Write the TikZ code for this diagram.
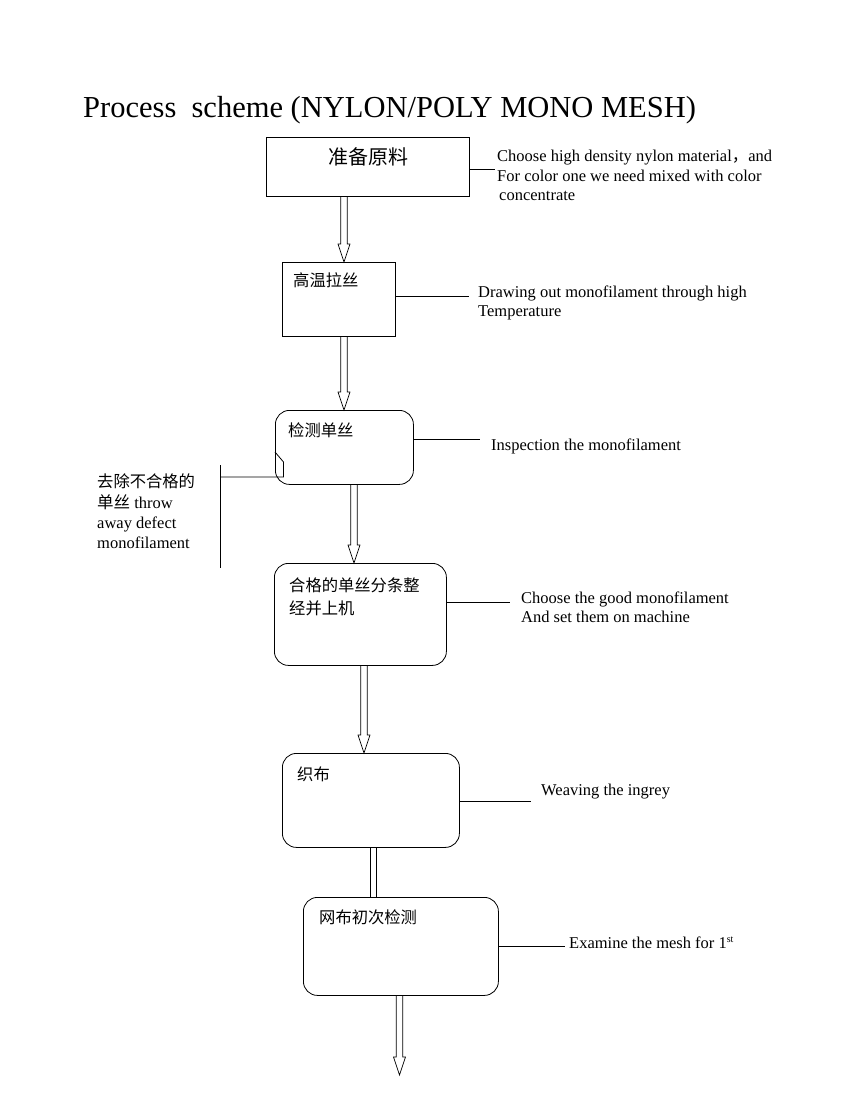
\documentclass[tikz,border=0pt]{standalone}
\usepackage{fontspec}
\setmainfont{Liberation Serif}
\newfontfamily\cjk{Noto Sans CJK SC}
\usetikzlibrary{calc}
\tikzset{
  sqbox/.style={draw, line width=0.8pt, rectangle, inner sep=0pt, anchor=north west},
  rbox/.style={draw, line width=0.8pt, rectangle, rounded corners=14pt, inner sep=0pt, anchor=north west},
  conn/.style={line width=0.8pt},
  dbl/.style={line width=0.7pt, line join=miter},
  cjktxt/.style={inner sep=0pt, anchor=base west, font=\fontsize{16.3}{19.5}\cjk},
  note/.style={inner sep=0pt, anchor=base west, font=\fontsize{16.5}{19.5}\selectfont},
}
\newcommand{\dblarrow}[2]{%
  \draw[dbl] ($(#1)+(-3.3,0)$) -- ($(#2)+(-3.3,-18)$) -- ($(#2)+(-6,-18)$) -- (#2)
    -- ($(#2)+(6,-18)$) -- ($(#2)+(3.3,-18)$) -- ($(#1)+(3.3,0)$);}
\begin{document}
\begin{tikzpicture}[x=1pt,y=-1pt]
\useasboundingbox (0,0) rectangle (850,1100);

% title
\node[inner sep=0pt, anchor=base west, font=\fontsize{30.5}{36}\selectfont] (title) at (83,117) {Process~~scheme (NYLON/POLY MONO MESH)};

% boxes
\node[sqbox, minimum width=203pt, minimum height=59pt] (b1) at (266,137) {};
\node[sqbox, minimum width=113pt, minimum height=74pt] (b2) at (282,262) {};
\node[rbox, minimum width=138pt, minimum height=74pt] (b3) at (275,410) {};
\node[rbox, minimum width=172pt, minimum height=102pt] (b4) at (274,563) {};
\node[rbox, minimum width=177pt, minimum height=94pt] (b5) at (282,753) {};
\node[rbox, minimum width=195pt, minimum height=98pt] (b6) at (303,897) {};

% box texts
\node[cjktxt, font=\fontsize{20}{24}\cjk] (t1) at (328,164.5) {准备原料};
\node[cjktxt] (t2) at (293,286) {高温拉丝};
\node[cjktxt] (t3) at (288,436) {检测单丝};
\node[cjktxt] (t4a) at (289,591) {合格的单丝分条整};
\node[cjktxt] (t4b) at (289,614) {经并上机};
\node[cjktxt] (t5) at (297,780) {织布};
\node[cjktxt] (t6) at (319,923) {网布初次检测};

% side notes
\node[note] (n1a) at (497,161) {Choose high density nylon material{\cjk ，}and};
\node[note] (n1b) at (497,181) {For color one we need mixed with color};
\node[note] (n1c) at (499,200) {concentrate};
\node[note] (n2a) at (478,297) {Drawing out monofilament through high};
\node[note] (n2b) at (478,316) {Temperature};
\node[note] (n3) at (491,450) {Inspection the monofilament};
\node[note] (n4a) at (521,603) {Choose the good monofilament};
\node[note] (n4b) at (521,622) {And set them on machine};
\node[note] (n5) at (541,795) {Weaving the ingrey};
\node[note] (n6) at (569,948) {Examine the mesh for 1\raisebox{5.5pt}{\fontsize{10}{10}\selectfont st}};
\node[cjktxt] (l1) at (97,487) {去除不合格的};
\node[note] (l2) at (97,508) {{\cjk 单丝} throw};
\node[note] (l3) at (97,528) {away defect};
\node[note] (l4) at (97,548) {monofilament};

% side connectors
\coordinate (e1) at (495,169);
\coordinate (e2) at (469,296);
\coordinate (e3) at (480,439);
\coordinate (e4) at (510,602);
\coordinate (e5) at (531,801);
\coordinate (e6) at (565,946);
\draw[conn] (b1.east |- e1) -- (e1);
\draw[conn] (b2.east |- e2) -- (e2);
\draw[conn] (b3.east |- e3) -- (e3);
\draw[conn] (b4.east |- e4) -- (e4);
\draw[conn] (b5.east |- e5) -- (e5);
\draw[conn] (b6.east |- e6) -- (e6);

% reject branch with notch on b3
\coordinate (r1) at (220.5,465);
\coordinate (r2) at (220.5,568);
\coordinate (rn) at (283.5,477);
\draw[conn] (r1) -- (r2);
\draw[conn] (b3.west |- 0,452) -- (283.5,462) -- (rn) -- (rn -| r1);

% flow arrows
\coordinate (x1) at (344,0);
\coordinate (x3) at (354,0);
\coordinate (x4) at (364,0);
\coordinate (x5) at (373.5,0);
\coordinate (x6) at (399.5,0);
\coordinate (a1s) at (b1.south -| x1); \coordinate (a1e) at (b2.north -| x1);
\coordinate (a2s) at (b2.south -| x1); \coordinate (a2e) at (b3.north -| x1);
\coordinate (a3s) at (b3.south -| x3); \coordinate (a3e) at (b4.north -| x3);
\coordinate (a4s) at (b4.south -| x4); \coordinate (a4e) at (b5.north -| x4);
\coordinate (a5s) at (b5.south -| x5); \coordinate (a5e) at (b6.north -| x5);
\coordinate (a6s) at (b6.south -| x6); \coordinate (a6e) at (399.5,1075);
\dblarrow{a1s}{a1e}
\dblarrow{a2s}{a2e}
\dblarrow{a3s}{a3e}
\dblarrow{a4s}{a4e}
\draw[dbl] ($(a5s)+(-2.7,0)$) -- ($(a5e)+(-2.7,0)$);
\draw[dbl] ($(a5s)+(2.7,0)$) -- ($(a5e)+(2.7,0)$);
\dblarrow{a6s}{a6e}
\end{tikzpicture}
\end{document}
